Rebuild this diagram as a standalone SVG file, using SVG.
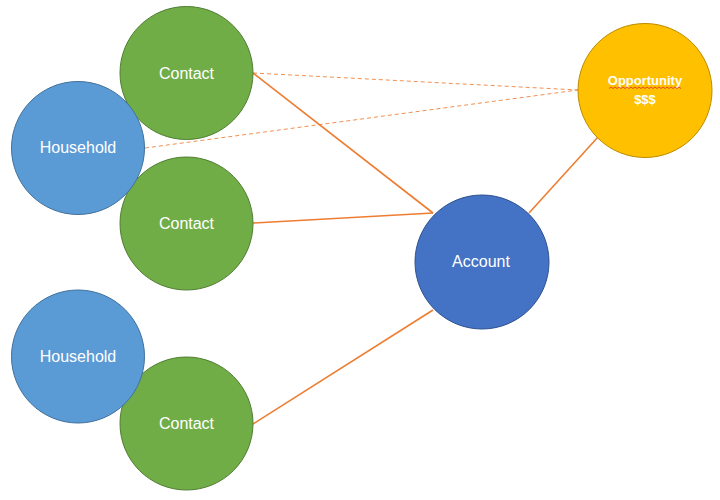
<svg xmlns="http://www.w3.org/2000/svg" width="720" height="500" viewBox="0 0 720 500">
<defs>
<style>
.edge{stroke:#ED7D31;stroke-width:1.6;fill:none}
.dash{stroke:#ED7D31;stroke-width:1;stroke-dasharray:4 3;fill:none;opacity:0.85}
.contact{fill:#70AD47;stroke:#507E32;stroke-width:1}
.household{fill:#5B9BD5;stroke:#41719C;stroke-width:1}
.account{fill:#4472C4;stroke:#2F528F;stroke-width:1}
.opp{fill:#FFC000;stroke:#BC8C00;stroke-width:1}
.lbl{font-family:"Liberation Sans",Arial,sans-serif;font-size:16px;fill:#FFFFFF;text-anchor:middle}
.olbl{font-family:"Liberation Sans",Arial,sans-serif;font-size:13px;font-weight:bold;fill:#FFFFFF;text-anchor:middle}
</style>
</defs>
<rect width="720" height="500" fill="#FFFFFF"/>
<g id="connectors">
<line class="dash" x1="253" y1="73" x2="578" y2="90"/>
<line class="dash" x1="145" y1="148" x2="578" y2="90"/>
<line class="edge" x1="253" y1="73" x2="433" y2="213"/>
<line class="edge" x1="253" y1="223" x2="433" y2="213"/>
<line class="edge" x1="253" y1="424" x2="433" y2="310"/>
<line class="edge" x1="529" y1="213" x2="598" y2="137"/>
</g>
<g id="contact1">
<circle class="contact" cx="186.5" cy="73" r="66.5"/>
<text class="lbl" x="186.5" y="79">Contact</text>
</g>
<g id="contact2">
<circle class="contact" cx="186.5" cy="223.5" r="66.5"/>
<text class="lbl" x="186.5" y="229">Contact</text>
</g>
<g id="contact3">
<circle class="contact" cx="186.5" cy="423.5" r="66.5"/>
<text class="lbl" x="186.5" y="429">Contact</text>
</g>
<g id="household1">
<circle class="household" cx="78" cy="148" r="66.5"/>
<text class="lbl" x="78" y="153">Household</text>
</g>
<g id="household2">
<circle class="household" cx="78" cy="356.5" r="66.5"/>
<text class="lbl" x="78" y="362">Household</text>
</g>
<g id="account">
<circle class="account" cx="482" cy="262" r="67"/>
<text class="lbl" x="481" y="267">Account</text>
</g>
<g id="opportunity">
<circle class="opp" cx="645" cy="90.5" r="67"/>
<text class="olbl" x="645" y="85">Opportunity</text>
<path d="M609,88.5 l2,-1.5 l2,1.5 l2,-1.5 l2,1.5 l2,-1.5 l2,1.5 l2,-1.5 l2,1.5 l2,-1.5 l2,1.5 l2,-1.5 l2,1.5 l2,-1.5 l2,1.5 l2,-1.5 l2,1.5 l2,-1.5 l2,1.5 l2,-1.5 l2,1.5 l2,-1.5 l2,1.5 l2,-1.5 l2,1.5 l2,-1.5 l2,1.5 l2,-1.5 l2,1.5 l2,-1.5 l2,1.5 l2,-1.5 l2,1.5 l2,-1.5 l2,1.5 l2,-1.5 l2,1.5" fill="none" stroke="#E03C31" stroke-width="0.9"/>
<text class="olbl" x="645" y="104">$$$</text>
</g>
</svg>
